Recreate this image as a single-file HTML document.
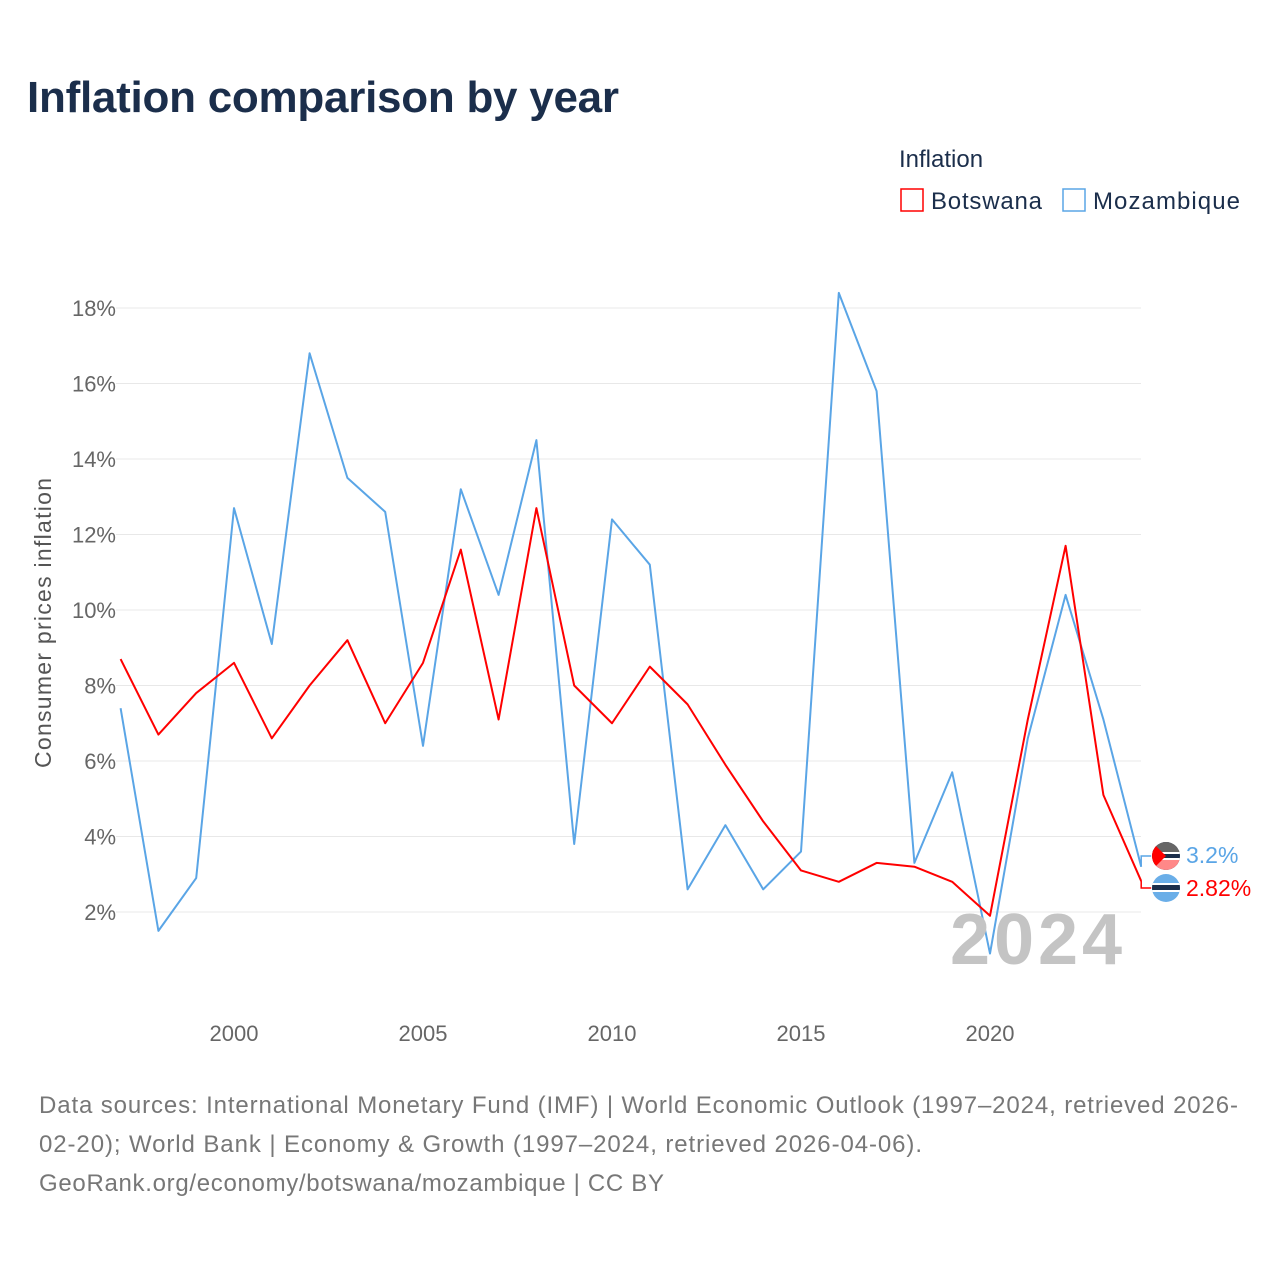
<!DOCTYPE html>
<html><head><meta charset="utf-8"><style>
body{margin:0;background:#fff;font-family:"Liberation Sans",sans-serif;}
#wrap{position:relative;width:1280px;height:1280px;overflow:hidden;}
</style></head><body>
<div id="wrap">
<svg id="chart" width="1280" height="1280" xmlns="http://www.w3.org/2000/svg">
<defs><clipPath id="c1"><circle cx="1166" cy="856" r="14"/></clipPath><clipPath id="c2"><circle cx="1166" cy="888" r="14"/></clipPath></defs>
<text x="27" y="112" font-size="44" font-weight="bold" fill="#1b2e4b" textLength="592">Inflation comparison by year</text>
<text x="899" y="167" font-size="24" fill="#1b2e4b">Inflation</text>
<g><rect x="901" y="189" width="22" height="22" fill="none" stroke="red" stroke-width="1.5"/><text x="931" y="209" font-size="24" fill="#1b2e4b" textLength="111">Botswana</text></g>
<g><rect x="1063" y="189" width="22" height="22" fill="none" stroke="#5aa5e6" stroke-width="1.5"/><text x="1093" y="209" font-size="24" fill="#1b2e4b" textLength="147">Mozambique</text></g>
<g id="grid"></g><g id="yt"></g><g id="xt"></g><g id="lines"></g>
<text x="1122" y="964" font-size="72" font-weight="bold" fill="#c4c4c4" text-anchor="end" textLength="172">2024</text>
<text transform="translate(51,623) rotate(-90)" font-size="23" fill="#555" text-anchor="middle" textLength="290">Consumer prices inflation</text>
<g font-size="24" fill="#777">
<text x="39" y="1113" textLength="1199">Data sources: International Monetary Fund (IMF) | World Economic Outlook (1997–2024, retrieved 2026-</text>
<text x="39" y="1152" textLength="883">02-20); World Bank | Economy &amp; Growth (1997–2024, retrieved 2026-04-06).</text>
<text x="39" y="1191" textLength="625">GeoRank.org/economy/botswana/mozambique | CC BY</text>
</g>
</svg></div>
<script>
const years=[1997,1998,1999,2000,2001,2002,2003,2004,2005,2006,2007,2008,2009,2010,2011,2012,2013,2014,2015,2016,2017,2018,2019,2020,2021,2022,2023,2024];
const botswana=[8.7,6.7,7.8,8.6,6.6,8.0,9.2,7.0,8.6,11.6,7.1,12.7,8.0,7.0,8.5,7.5,5.9,4.4,3.1,2.8,3.3,3.2,2.8,1.9,7.1,11.7,5.1,2.82];
const mozambique=[7.4,1.5,2.9,12.7,9.1,16.8,13.5,12.6,6.4,13.2,10.4,14.5,3.8,12.4,11.2,2.6,4.3,2.6,3.6,18.4,15.8,3.3,5.7,0.9,6.6,10.4,7.1,3.2];
const yTicks=[2,4,6,8,10,12,14,16,18];
const xTicks=[2000,2005,2010,2015,2020];
const NS="http://www.w3.org/2000/svg";
const X=y=>120.6+(y-1997)*37.8;
const Y=v=>987.5-v*37.75;
function mk(t,a,p){const e=document.createElementNS(NS,t);for(const k in a)e.setAttribute(k,a[k]);p.appendChild(e);return e;}
const g=document.getElementById('grid'),yt=document.getElementById('yt'),xt=document.getElementById('xt'),ln=document.getElementById('lines');
yTicks.forEach(v=>{
 const l=mk('line',{x1:116,x2:1141,y1:Y(v),y2:Y(v),stroke:'#e8e8e8','stroke-width':1},g);
 
 
 const t=mk('text',{x:116,y:Y(v)+8,'font-size':22,fill:'#666','text-anchor':'end'},yt);t.textContent=v+'%';
 
 
});
xTicks.forEach(v=>{
 const t=mk('text',{x:X(v),y:1041,'font-size':22,fill:'#666','text-anchor':'middle'},xt);t.textContent=v;
 
 
});
function line(d,c,name){
 const p=mk('polyline',{points:d.map((v,i)=>X(years[i])+','+Y(v)).join(' '),fill:'none',stroke:c,'stroke-width':2,'stroke-linejoin':'round'},ln);
 
 
}
line(mozambique,'#5aa5e6','mozambique-line');
line(botswana,'red','botswana-line');
const lx=X(2024),mv=mozambique[mozambique.length-1],bv=botswana[botswana.length-1];
const my=856, by=888;
mk('polyline',{points:`${lx},${Y(mv)} ${lx},${my} ${lx+10},${my}`,fill:'none',stroke:'#5aa5e6','stroke-width':1.5},ln);
mk('polyline',{points:`${lx},${Y(bv)} ${lx},${by} ${lx+10},${by}`,fill:'none',stroke:'red','stroke-width':1.5},ln);
const f1=mk('g',{'clip-path':'url(#c1)'},ln);
mk('rect',{x:1152,y:my-14,width:28,height:28,fill:'#1b2e4b'},f1);
mk('rect',{x:1152,y:my-14,width:28,height:10,fill:'#666'},f1);
mk('rect',{x:1152,y:my+4,width:28,height:10,fill:'#f88'},f1);
mk('rect',{x:1152,y:my-4,width:28,height:2,fill:'#fff'},f1);
mk('rect',{x:1152,y:my+2,width:28,height:2,fill:'#fff'},f1);
mk('polygon',{points:`1152,${my-14} 1166,${my} 1152,${my+14}`,fill:'red'},f1);
const t1=mk('text',{x:1186,y:my+7,'font-size':23,fill:'#5aa5e6'},ln);t1.textContent=mv+'%';


const f2=mk('g',{'clip-path':'url(#c2)'},ln);
mk('rect',{x:1152,y:by-14,width:28,height:28,fill:'#6aaee8'},f2);
mk('rect',{x:1152,y:by-5,width:28,height:9,fill:'#fff'},f2);
mk('rect',{x:1152,y:by-3,width:28,height:5,fill:'#1b2e4b'},f2);
const t2=mk('text',{x:1186,y:by+8,'font-size':23,fill:'red'},ln);t2.textContent=bv+'%';


</script></body></html>
